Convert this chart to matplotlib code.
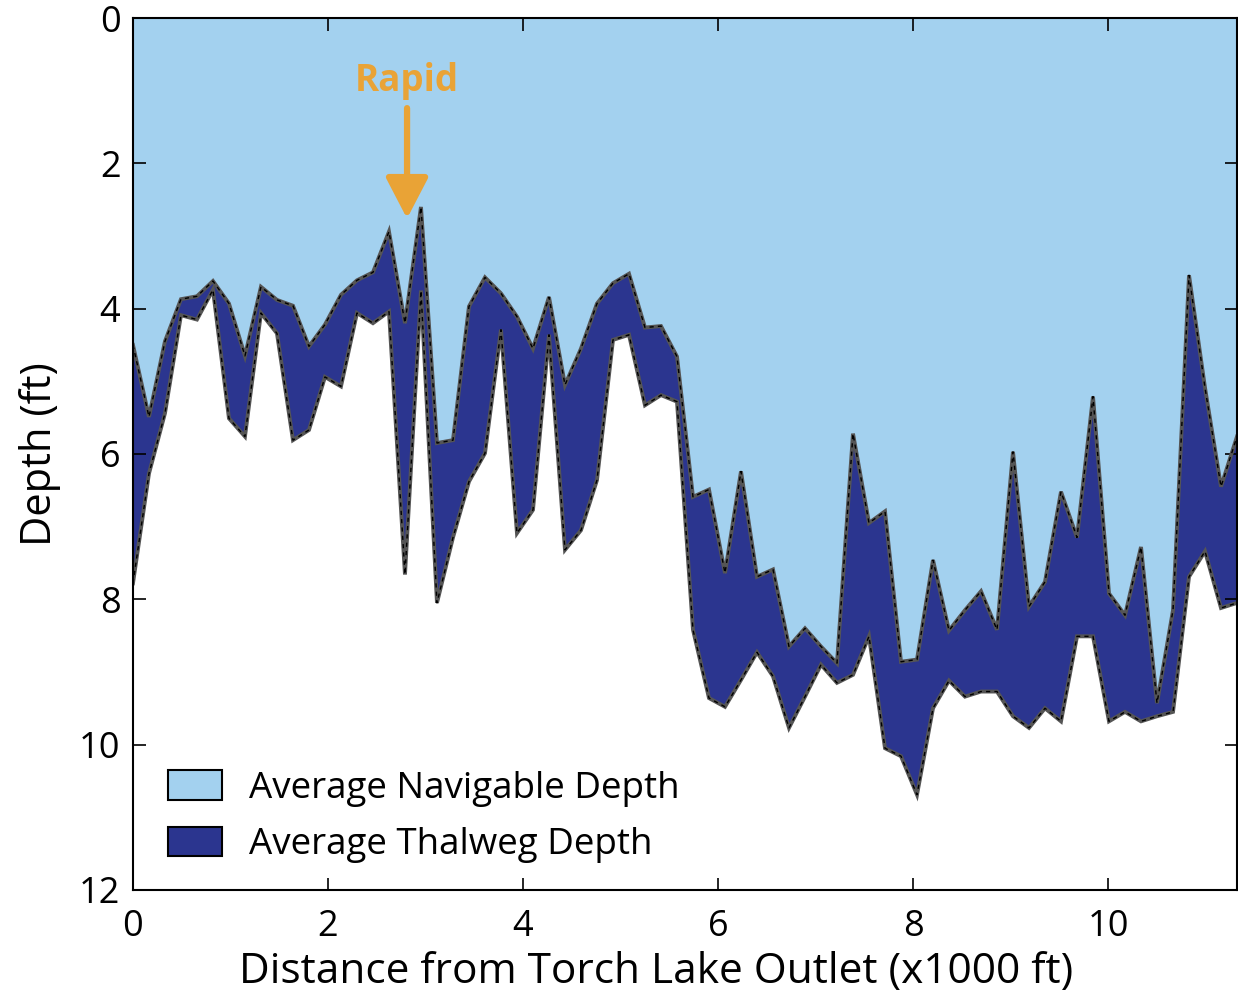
import numpy as np
import matplotlib
matplotlib.use("Agg")
from matplotlib import pyplot as plt
from matplotlib.patches import Patch

plt.rcParams['font.family'] = ['Open Sans', 'DejaVu Sans']

# survey stations every 50 m, distance in thousands of feet
station_m = np.arange(70) * 50
distance = station_m * 3.28084 / 1000.0

# average navigable depth (ft) at each station
navigable = [4.50, 5.49, 4.45, 3.87, 3.83, 3.62, 3.93, 4.65, 3.70, 3.88,
             3.96, 4.52, 4.22, 3.81, 3.61, 3.50, 2.94, 4.20, 2.60, 5.85,
             5.81, 3.97, 3.57, 3.79, 4.11, 4.55, 3.84, 5.05, 4.55, 3.93,
             3.65, 3.52, 4.26, 4.24, 4.66, 6.59, 6.49, 7.64, 6.24, 7.69,
             7.59, 8.65, 8.40, 8.65, 8.88, 5.72, 6.95, 6.79, 8.86, 8.83,
             7.46, 8.43, 8.15, 7.89, 8.42, 5.97, 8.10, 7.76, 6.52, 7.15,
             5.21, 7.92, 8.22, 7.28, 9.43, 8.15, 3.54, 5.09, 6.45, 5.76]

# average thalweg depth (ft) at each station
thalweg = [7.78, 6.27, 5.44, 4.09, 4.15, 3.74, 5.51, 5.76, 4.06, 4.34,
           5.81, 5.67, 4.94, 5.07, 4.06, 4.20, 4.04, 7.66, 3.75, 8.05,
           7.15, 6.38, 5.99, 4.29, 7.09, 6.77, 4.36, 7.32, 7.05, 6.36,
           4.43, 4.36, 5.33, 5.19, 5.28, 8.42, 9.36, 9.48, 9.11, 8.73,
           9.06, 9.77, 9.34, 8.90, 9.15, 9.04, 8.51, 10.05, 10.16, 10.69,
           9.50, 9.12, 9.34, 9.27, 9.27, 9.61, 9.77, 9.50, 9.68, 8.51,
           8.51, 9.68, 9.55, 9.68, 9.61, 9.55, 7.69, 7.34, 8.12, 8.05]

light_blue = '#A3D1EF'
dark_blue = '#2B358F'
orange = '#E9A336'

fig = plt.figure(figsize=(12.38, 10.01), dpi=100)
ax = fig.add_axes([0.1074, 0.111, 0.8918, 0.871])

ax.fill_between(distance, 0, navigable, color=light_blue, lw=0)
ax.fill_between(distance, navigable, thalweg, color=dark_blue, lw=0)
for d in (navigable, thalweg):
    ax.plot(distance, d, color='#555555', lw=2.8, solid_joinstyle='miter')
    ax.plot(distance, d, color='black', lw=1.0, ls=(0, (3, 3)))

ax.set_xlim(0, distance[-1])
ax.set_ylim(12, 0)
ax.set_xticks([0, 2, 4, 6, 8, 10])
ax.set_yticks([0, 2, 4, 6, 8, 10, 12])
ax.tick_params(direction='in', length=9, width=1.2, labelsize=26,
               top=True, right=True)
ax.tick_params(axis='x', pad=14)
ax.tick_params(axis='y', pad=9)
for s in ax.spines.values():
    s.set_linewidth(1.5)

ax.set_xlabel('Distance from Torch Lake Outlet (x1000 ft)', fontsize=30.5)
ax.xaxis.set_label_coords(0.474, -0.094)
ax.xaxis.label.set_va('center')
ax.set_ylabel('Depth (ft)', fontsize=30, labelpad=13)

ax.annotate('', xy=(2.81, 2.76), xytext=(2.81, 1.24),
            arrowprops=dict(arrowstyle='-|>,head_length=1.25,head_width=0.65',
                            mutation_scale=20, color=orange, lw=4.5,
                            shrinkA=0, shrinkB=0))
ax.text(2.81, 0.87, 'Rapid', color=orange, fontsize=26.5, fontweight='bold',
        ha='center', va='center')

handles = [Patch(facecolor=light_blue, edgecolor='black', lw=1.5),
           Patch(facecolor=dark_blue, edgecolor='black', lw=1.5)]
ax.legend(handles, ['Average Navigable Depth', 'Average Thalweg Depth'],
          loc='lower left', bbox_to_anchor=(0.032, 0.0305), frameon=False,
          borderpad=0, borderaxespad=0,
          fontsize=26.5, handlelength=1.45, handleheight=0.85, labelspacing=0.55,
          handletextpad=0.75)

plt.savefig('out.png', dpi=100)
